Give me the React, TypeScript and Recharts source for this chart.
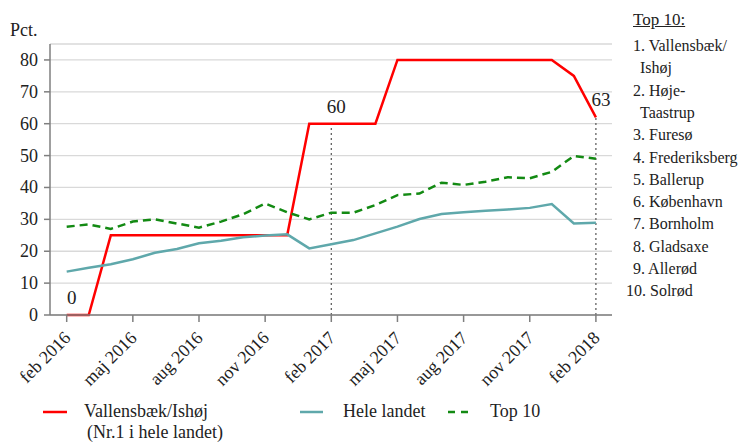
import React from "react";
import {
  LineChart,
  Line,
  XAxis,
  YAxis,
  CartesianGrid,
  ReferenceLine,
  LabelList,
} from "recharts";

const months = [
  "feb 2016", "mar 2016", "apr 2016", "maj 2016", "jun 2016", "jul 2016",
  "aug 2016", "sep 2016", "okt 2016", "nov 2016", "dec 2016", "jan 2017",
  "feb 2017", "mar 2017", "apr 2017", "maj 2017", "jun 2017", "jul 2017",
  "aug 2017", "sep 2017", "okt 2017", "nov 2017", "dec 2017", "jan 2018",
  "feb 2018",
];

const vallensbaek = [0, 0, 25, 25, 25, 25, 25, 25, 25, 25, 25, 60, 60, 60, 60, 80, 80, 80, 80, 80, 80, 80, 80, 75, 62];
const heleLandet = [13.6, 14.8, 15.9, 17.5, 19.5, 20.7, 22.5, 23.3, 24.4, 24.9, 25.3, 20.9, 22.2, 23.5, 25.6, 27.7, 30.1, 31.7, 32.2, 32.7, 33.1, 33.6, 34.8, 28.7, 28.9];
const top10 = [27.7, 28.4, 27.0, 29.3, 30.0, 28.7, 27.4, 29.3, 31.6, 35.0, 32.2, 30.0, 32.1, 32.1, 34.5, 37.6, 38.1, 41.5, 40.8, 41.8, 43.2, 42.9, 44.9, 49.9, 49.0];

const xTicks = [0, 3, 6, 9, 12, 15, 18, 21, 24];
const yTicks = [0, 10, 20, 30, 40, 50, 60, 70, 80];

const labelIdx = [0, 12, 24];
const labelText = ["0", "60", "63"];

const top10List = [
  ["1. Vallensbæk/", "Ishøj"],
  ["2. Høje-", "Taastrup"],
  ["3. Furesø"],
  ["4. Frederiksberg"],
  ["5. Ballerup"],
  ["6. København"],
  ["7. Bornholm"],
  ["8. Gladsaxe"],
  ["9. Allerød"],
  ["10. Solrød"],
];

const data = months.map((m, i) => ({
  i,
  month: m,
  vallensbaek: vallensbaek[i],
  hele: heleLandet[i],
  top10: top10[i],
}));

const FONT = "'Liberation Serif', 'Times New Roman', Times, serif";
const RED = "#ff0000";
const TEAL = "#5fa8ab";
const GREEN = "#138a13";

const XTick = (props: any) => {
  const { x, y, payload } = props;
  const ax = x + 5;
  const ay = y + 15;
  return (
    <text
      x={ax}
      y={ay}
      textAnchor="end"
      transform={`rotate(-45 ${ax} ${ay})`}
      style={{ fontFamily: FONT, fontSize: 18 }}
      fill="#222"
    >
      {months[payload.value]}
    </text>
  );
};

const YTick = (props: any) => {
  const { x, y, payload } = props;
  return (
    <text
      x={x}
      y={y}
      dy={6}
      textAnchor="end"
      style={{ fontFamily: FONT, fontSize: 18 }}
      fill="#222"
    >
      {payload.value}
    </text>
  );
};

const PointLabel = (props: any) => {
  const { x, y, index } = props;
  const k = labelIdx.indexOf(index);
  if (k < 0) return null;
  return (
    <text
      x={x + 5}
      y={y - 11}
      textAnchor="middle"
      style={{ fontFamily: FONT, fontSize: 19 }}
      fill="#222"
    >
      {labelText[k]}
    </text>
  );
};

export default function App() {
  const lineH = 22.3;
  let row = 0;
  return (
    <div style={{ position: "absolute", left: 0, top: 0, width: 740, height: 444, background: "#fff", fontFamily: FONT, color: "#222", overflow: "hidden" }}>
      <LineChart
        width={740}
        height={444}
        data={data}
        margin={{ top: 44, right: 128, bottom: 59, left: 0 }}
        style={{ fontFamily: FONT }}
      >
        <CartesianGrid horizontal vertical={false} stroke="#d9d9d9" strokeWidth={1.3} />
        <XAxis
          dataKey="i"
          type="number"
          domain={[-0.757, 24.73]}
          ticks={xTicks}
          interval={0}
          height={70}
          tickSize={7}
          tickMargin={2}
          tick={<XTick />}
          axisLine={{ stroke: "#7f7f7f", strokeWidth: 1.5 }}
          tickLine={{ stroke: "#7f7f7f", strokeWidth: 1.5 }}
        />
        <YAxis
          type="number"
          domain={[0, 85]}
          ticks={yTicks}
          interval={0}
          width={50}
          tickSize={6}
          tickMargin={6}
          tick={<YTick />}
          axisLine={{ stroke: "#7f7f7f", strokeWidth: 1.5 }}
          tickLine={{ stroke: "#7f7f7f", strokeWidth: 1.5 }}
        />
        <ReferenceLine
          segment={[{ x: 12, y: 0 }, { x: 12, y: vallensbaek[12] }]}
          stroke="#555"
          strokeDasharray="2 3"
          strokeWidth={1.2}
        />
        <ReferenceLine
          segment={[{ x: 24, y: 0 }, { x: 24, y: vallensbaek[24] }]}
          stroke="#555"
          strokeDasharray="2 3"
          strokeWidth={1.2}
        />
        <Line
          type="linear"
          dataKey="vallensbaek"
          stroke={RED}
          strokeWidth={2.5}
          dot={false}
          isAnimationActive={false}
        >
          <LabelList dataKey="vallensbaek" content={<PointLabel />} />
        </Line>
        <Line
          type="linear"
          dataKey="hele"
          stroke={TEAL}
          strokeWidth={2.5}
          dot={false}
          isAnimationActive={false}
        />
        <Line
          type="linear"
          dataKey="top10"
          stroke={GREEN}
          strokeWidth={2.5}
          strokeDasharray="8 5"
          dot={false}
          isAnimationActive={false}
        />
      </LineChart>

      <div style={{ position: "absolute", left: 10, top: 20, fontSize: 18, lineHeight: "20px" }}>Pct.</div>

      <div style={{ position: "absolute", left: 633, top: 9, fontSize: 17, lineHeight: "22px", textDecoration: "underline" }}>Top 10:</div>
      {top10List.map((item, k) =>
        item.map((line, j) => {
          const top = 35 + lineH * row;
          row += 1;
          const left = j > 0 ? 640 : k === 9 ? 626 : 633;
          return (
            <div key={`${k}-${j}`} style={{ position: "absolute", left, top, fontSize: 16, lineHeight: "22px", whiteSpace: "nowrap" }}>
              {line}
            </div>
          );
        })
      )}

      <svg style={{ position: "absolute", left: 0, top: 0 }} width={740} height={444}>
        <line x1={43} x2={67} y1={412} y2={412} stroke={RED} strokeWidth={2.5} />
        <line x1={300} x2={323} y1={412} y2={412} stroke={TEAL} strokeWidth={2.5} />
        <line x1={448} x2={470} y1={412} y2={412} stroke={GREEN} strokeWidth={2.5} strokeDasharray="7 6" />
      </svg>
      <div style={{ position: "absolute", left: 84, top: 401, fontSize: 18, lineHeight: "21px", whiteSpace: "nowrap" }}>
        Vallensbæk/Ishøj
        <br />
        <span style={{ marginLeft: 3 }}>(Nr.1 i hele landet)</span>
      </div>
      <div style={{ position: "absolute", left: 343, top: 401, fontSize: 18, lineHeight: "21px" }}>Hele landet</div>
      <div style={{ position: "absolute", left: 490, top: 401, fontSize: 18, lineHeight: "21px" }}>Top 10</div>
    </div>
  );
}
